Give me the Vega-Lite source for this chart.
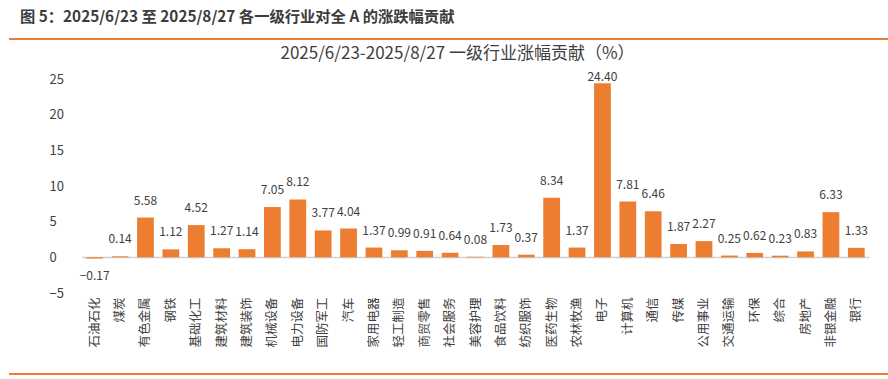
{
  "$schema": "https://vega.github.io/schema/vega-lite/v6.json",
  "background": "white",
  "padding": {"left": 7, "top": 9, "right": 0, "bottom": 0},
  "config": {
    "view": {"stroke": null},
    "font": "Noto Sans CJK SC",
    "axisY": {"labelOverlap": false, "labelBound": false}
  },
  "title": {
    "text": "图 5：2025/6/23 至 2025/8/27 各一级行业对全 A 的涨跌幅贡献",
    "anchor": "start",
    "frame": "group",
    "dx": -62,
    "fontSize": 15.3,
    "fontWeight": "bold",
    "color": "#3C3C3C",
    "font": "Noto Sans CJK SC",
    "offset": 13
  },
  "datasets": {
    "d": [
      {"industry": "石油石化", "value": -0.17},
      {"industry": "煤炭", "value": 0.14},
      {"industry": "有色金属", "value": 5.58},
      {"industry": "钢铁", "value": 1.12},
      {"industry": "基础化工", "value": 4.52},
      {"industry": "建筑材料", "value": 1.27},
      {"industry": "建筑装饰", "value": 1.14},
      {"industry": "机械设备", "value": 7.05},
      {"industry": "电力设备", "value": 8.12},
      {"industry": "国防军工", "value": 3.77},
      {"industry": "汽车", "value": 4.04},
      {"industry": "家用电器", "value": 1.37},
      {"industry": "轻工制造", "value": 0.99},
      {"industry": "商贸零售", "value": 0.91},
      {"industry": "社会服务", "value": 0.64},
      {"industry": "美容护理", "value": 0.08},
      {"industry": "食品饮料", "value": 1.73},
      {"industry": "纺织服饰", "value": 0.37},
      {"industry": "医药生物", "value": 8.34},
      {"industry": "农林牧渔", "value": 1.37},
      {"industry": "电子", "value": 24.40},
      {"industry": "计算机", "value": 7.81},
      {"industry": "通信", "value": 6.46},
      {"industry": "传媒", "value": 1.87},
      {"industry": "公用事业", "value": 2.27},
      {"industry": "交通运输", "value": 0.25},
      {"industry": "环保", "value": 0.62},
      {"industry": "综合", "value": 0.23},
      {"industry": "房地产", "value": 0.83},
      {"industry": "非银金融", "value": 6.33},
      {"industry": "银行", "value": 1.33}
    ]
  },
  "spacing": 24,
  "vconcat": [
    {
      "spacing": 4,
      "vconcat": [
        {
          "width": 808,
          "height": 2,
          "data": {"values": [{}]},
          "mark": {"type": "rule", "color": "#ED7D31", "strokeWidth": 2.2, "clip": false},
          "encoding": {
            "x": {"datum": 0, "type": "quantitative", "scale": {"domain": [0, 1], "range": [-73, 808]}, "axis": null},
            "x2": {"datum": 1}
          }
        },
        {
          "width": 787,
          "height": 214,
          "title": {
            "text": "2025/6/23-2025/8/27 一级行业涨幅贡献（%）",
            "anchor": "middle",
            "frame": "group",
            "dx": -18,
            "fontSize": 17,
            "fontWeight": "normal",
            "color": "#404040",
            "offset": 8
          },
          "data": {"name": "d"},
          "encoding": {
            "x": {
              "field": "industry", "type": "nominal", "sort": null,
              "scale": {"paddingInner": 0.34, "paddingOuter": 0.17},
              "axis": {"title": null, "labelAngle": -90, "labelFontSize": 12.5, "labelColor": "#404040", "labelPadding": 4, "ticks": false, "domain": false, "labelLimit": 200}
            },
            "y": {
              "field": "value", "type": "quantitative",
              "scale": {"domain": [-5, 25], "nice": false, "zero": false},
              "axis": {
                "values": [-5, 0, 5, 10, 15, 20, 25],
                "labelOverlap": false,
                "grid": true,
                "gridColor": {"condition": {"test": "datum.value === 0", "value": "#D0D0D0"}, "value": "transparent"},
                "gridWidth": 1.5,
                "domain": false, "ticks": false,
                "labelAlign": "left", "labelPadding": 33,
                "labelFontSize": 13, "labelColor": "#404040",
                "title": " ", "titleX": -73, "titleY": 0, "titleAngle": 0,
                "titleAlign": "left", "titleBaseline": "top", "titleFontSize": 8
              }
            }
          },
          "layer": [
            {
              "mark": {"type": "bar", "color": "#ED7D31"}
            },
            {
              "transform": [{"filter": "datum.value >= 0 && datum.value < 20"}],
              "mark": {"type": "text", "baseline": "middle", "dy": -17, "fontSize": 12, "color": "#404040"},
              "encoding": {
                "text": {"field": "value", "type": "quantitative", "format": ".2f"}
              }
            },
            {
              "transform": [{"filter": "datum.value >= 20"}],
              "mark": {"type": "text", "baseline": "middle", "dy": -6, "fontSize": 12, "color": "#404040"},
              "encoding": {
                "text": {"field": "value", "type": "quantitative", "format": ".2f"}
              }
            },
            {
              "transform": [{"filter": "datum.value < 0"}],
              "mark": {"type": "text", "baseline": "middle", "dy": 17, "fontSize": 12, "color": "#404040"},
              "encoding": {
                "text": {"field": "value", "type": "quantitative", "format": ".2f"}
              }
            }
          ]
        }
      ]
    },
    {
      "width": 808,
      "height": 2,
      "data": {"values": [{}]},
      "mark": {"type": "rule", "color": "#ED7D31", "strokeWidth": 2.2, "clip": false},
      "encoding": {
        "x": {"datum": 0, "type": "quantitative", "scale": {"domain": [0, 1], "range": [-73, 808]}, "axis": null},
        "x2": {"datum": 1}
      }
    }
  ]
}
